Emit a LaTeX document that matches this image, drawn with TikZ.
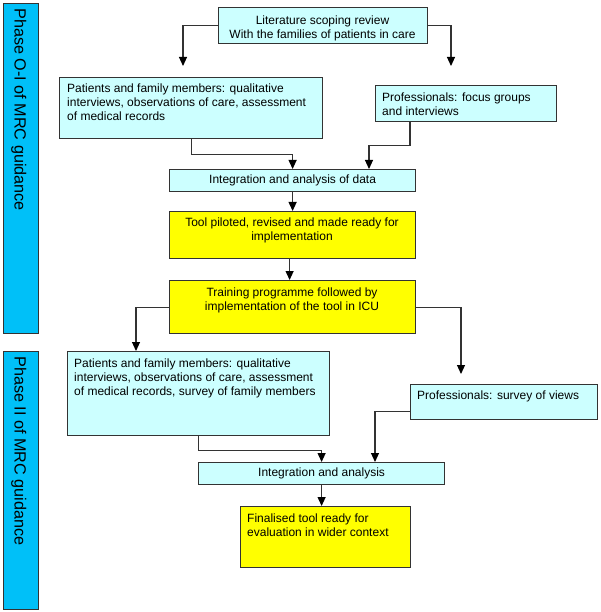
\documentclass[tikz,border=0pt]{standalone}
\usepackage{fontspec}
\setmainfont{Liberation Sans}
\usetikzlibrary{arrows.meta,calc}
\definecolor{lcyan}{HTML}{CCFFFF}
\definecolor{phaseblue}{HTML}{00C0F8}
\definecolor{yel}{HTML}{FFFF00}
\definecolor{edgecol}{HTML}{333333}
\begin{document}
\begin{tikzpicture}[x=1pt,y=-1pt,
  boxbase/.style={draw=edgecol, line width=1.2pt, inner sep=0pt, anchor=north west, font=\fontsize{12}{14.2}\selectfont},
  cbox/.style={boxbase, fill=lcyan},
  ybox/.style={boxbase, fill=yel},
  phasebox/.style={boxbase, fill=phaseblue},
  phasetxt/.style={inner sep=0pt, anchor=west, rotate=-90, font=\fontsize{16.2}{18}\selectfont},
  ltxt/.style={inner sep=0pt, anchor=north west, align=left, font=\fontsize{12}{14.2}\selectfont},
  ctxt/.style={inner sep=0pt, anchor=north, align=center, font=\fontsize{12}{14.2}\selectfont},
  arr/.style={draw=edgecol, line width=1.1pt, -{Triangle[length=9pt,width=8pt,color=black]}}
]
\useasboundingbox (0,0) rectangle (600,612);
% phase bars
\node[phasebox, minimum width=35, minimum height=330] (ph1) at (3,3) {};
\node[phasetxt] (ph1t) at (18.7,8) {Phase O-I of MRC guidance};
\node[phasebox, minimum width=35, minimum height=258] (ph2) at (3,351) {};
\node[phasetxt] (ph2t) at (18.7,356) {Phase II of MRC guidance};
% boxes
\node[cbox, minimum width=209, minimum height=36] (lit) at (218,7) {};
\node[ctxt] (litt) at (322.5,14) {\strut Literature scoping review\\With the families of patients in care};
\node[cbox, minimum width=263, minimum height=61] (p1) at (59,77) {};
\node[ltxt] (p1t) at (67,82) {\strut Patients and family members: qualitative\\interviews, observations of care, assessment\\of medical records};
\node[cbox, minimum width=181, minimum height=36] (pr1) at (375,85) {};
\node[ltxt] (pr1t) at (382,91) {\strut Professionals: focus groups\\and interviews};
\node[cbox, minimum width=246, minimum height=22] (int1) at (169,169) {Integration and analysis of data};
\node[ybox, minimum width=246, minimum height=47] (tool) at (169,211) {};
\node[ctxt] (toolt) at (292,216) {\strut Tool piloted, revised and made ready for\\implementation};
\node[ybox, minimum width=246, minimum height=53] (train) at (169,280) {};
\node[ctxt] (traint) at (292,286) {\strut Training programme followed by\\implementation of the tool in ICU};
\node[cbox, minimum width=262, minimum height=84] (p2) at (67,351) {};
\node[ltxt] (p2t) at (74,357) {\strut Patients and family members: qualitative\\interviews, observations of care, assessment\\of medical records, survey of family members};
\node[cbox, minimum width=187, minimum height=35] (pr2) at (410,384) {};
\node[ltxt] (pr2t) at (417,389) {\strut Professionals: survey of views};
\node[cbox, minimum width=246, minimum height=22] (int2) at (198,462) {Integration and analysis};
\node[ybox, minimum width=170, minimum height=61] (fin) at (240,506) {};
\node[ltxt] (fint) at (247,512) {\strut Finalised tool ready for\\evaluation in wider context};
% arrow ends
\coordinate (a1) at (183,66);
\coordinate (a2) at (451,66);
\coordinate (a3) at (461,374);
% connectors
\draw[arr] (lit.west) -| (a1);
\draw[arr] (lit.east) -| (a2);
\draw[arr] (p1.south) -- ++(0,15) -| (int1.north);
\draw[arr] ([xshift=35pt]pr1.south west) -- ++(0,23) -| ([xshift=200pt]int1.north west);
\draw[arr] (int1.south) -- (tool.north);
\draw[arr] ([xshift=-3pt]tool.south) -- ([xshift=-3pt]train.north);
\draw[arr] (train.west) -| ([xshift=69pt]p2.north west);
\draw[arr] (train.east) -| (a3);
\draw[arr] (p2.south) -- ++(0,14) -| (int2.north);
\draw[arr] ([yshift=-9pt]pr2.west) -| ([xshift=177pt]int2.north west);
\draw[arr] (int2.south) -- (int2.south |- fin.north);
\end{tikzpicture}
\end{document}
